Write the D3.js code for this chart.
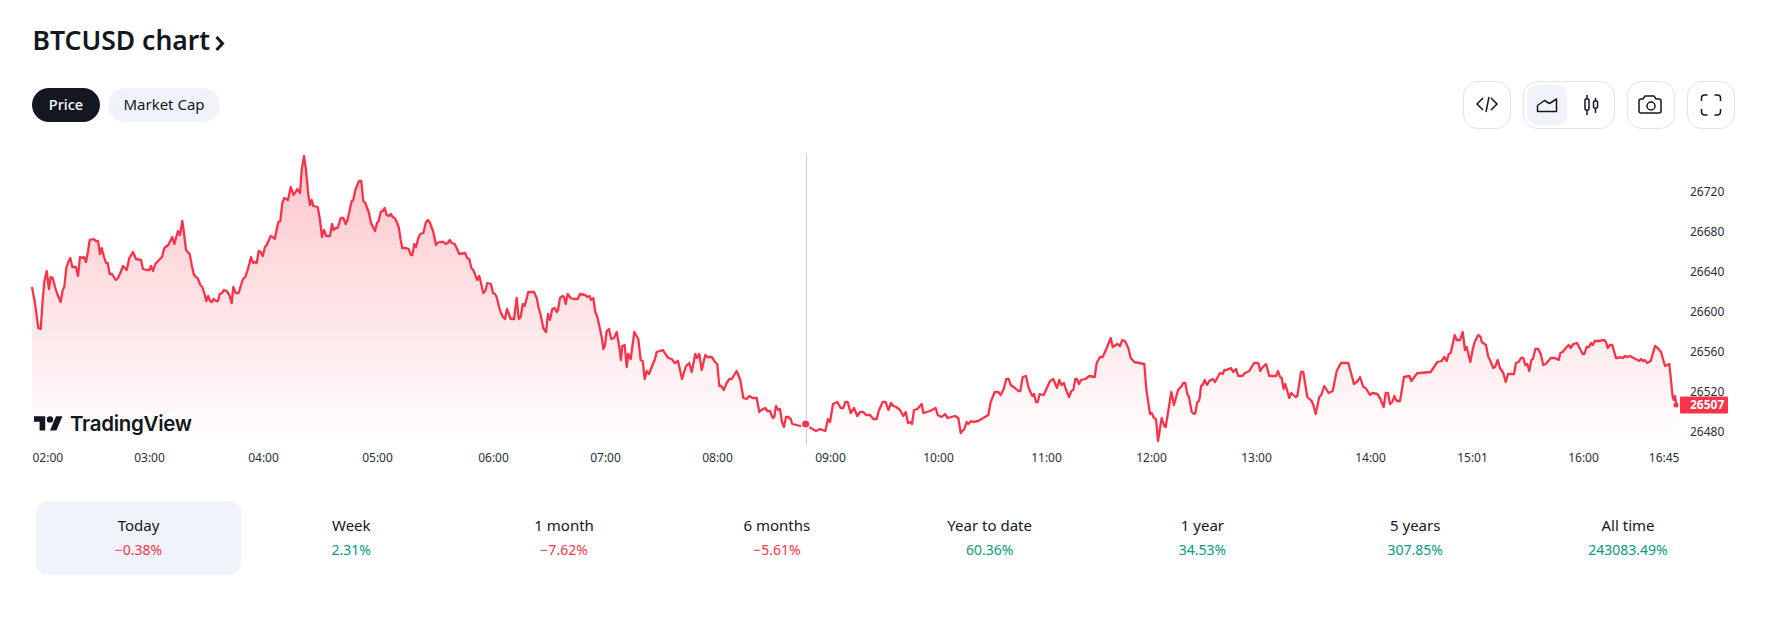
<!DOCTYPE html>
<html>
<head>
<meta charset="utf-8">
<script src="https://cdn.jsdelivr.net/npm/d3@7"></script>
<style>
  html, body { margin: 0; background: #fff; }
  svg { display: block; }
  text { font-family: "Noto Sans", sans-serif; fill: #131722; }
</style>
</head>
<body>
<div id="chart"></div>
<script>
// Price line, [bar, price]. Bars are time scale slots, not real minutes
const priceLine = [
  [0,26625],[3,26609],[6.3,26584],[8.7,26583],[10.7,26612],[12.3,26630],[14.7,26641],[17,26623],[18.7,26635],[20.7,26634],
  [23,26625],[25.3,26618],[28.7,26610],[30.7,26622],[32.3,26625],[34.3,26644],[36.3,26650],[38.3,26654],[40.3,26645],[44,26645],
  [46,26636],[48,26655],[50.3,26654],[52,26655],[54,26650],[55.7,26659],[57.7,26672],[61.3,26673],[64,26671],[66,26671],
  [68,26658],[69.7,26664],[72,26655],[74,26649],[75.7,26649],[77.7,26638],[80,26638],[83.7,26632],[86,26634],[88.7,26640],
  [91,26646],[94.7,26642],[97.3,26654],[101,26660],[104,26653],[109,26652],[111,26643],[114.7,26642],[117.3,26642],[119,26646],
  [121,26641],[123.3,26648],[126,26651],[130,26655],[132.3,26664],[136.3,26667],[140.3,26675],[142.3,26668],[146,26681],[148,26677],
  [150.3,26691],[152,26679],[154,26662],[157.7,26658],[159.7,26647],[161.7,26638],[163.7,26635],[165.7,26634],[168.3,26627],[170.3,26625],
  [172.3,26619],[174.3,26611],[176.3,26616],[178,26611],[179.7,26610],[181.7,26613],[184,26611],[186,26611],[187.7,26618],[190,26619],
  [192,26622],[194.7,26621],[197.3,26617],[199.7,26609],[201.3,26625],[203.7,26619],[206.7,26619],[208.7,26626],[211,26633],[213.3,26635],
  [215.3,26641],[217.3,26648],[219,26655],[221,26649],[223,26650],[224.7,26649],[226.7,26661],[228.7,26660],[230.7,26656],[233,26665],
  [234.7,26667],[238.7,26676],[240.7,26675],[242.7,26673],[246.3,26690],[248.3,26691],[250.3,26709],[252.3,26714],[256,26712],[258.7,26725],
  [261.7,26717],[265.3,26723],[268,26719],[269.7,26742],[272,26756],[274,26742],[276.3,26717],[278,26707],[279.7,26712],[281.3,26706],
  [285.7,26705],[288,26692],[290,26675],[292,26682],[294.3,26676],[298,26676],[300,26688],[301.7,26682],[303.7,26684],[305.7,26684],
  [308.7,26694],[311.3,26694],[313.7,26688],[315.7,26693],[319.7,26711],[321.3,26712],[323.3,26722],[327,26731],[329.3,26731],[331.3,26711],
  [333.3,26709],[337,26699],[339,26689],[343,26681],[345,26689],[346.7,26691],[348.7,26700],[350.7,26701],[352.7,26704],[354.7,26697],
  [357,26696],[358.7,26698],[360.7,26695],[362.7,26694],[364.7,26690],[366.7,26685],[368.7,26672],[370.3,26664],[374,26664],[376.7,26663],
  [378.7,26657],[380.3,26657],[382.3,26668],[384,26665],[386.3,26674],[388.3,26678],[391.3,26679],[394,26690],[396,26692],[398,26689],
  [401.3,26680],[404,26667],[405.3,26669],[408,26670],[411.7,26670],[413.7,26668],[415.7,26669],[417.7,26672],[419.7,26669],[422.7,26668],
  [427.3,26658],[433,26659],[435.3,26654],[437.3,26653],[439.3,26644],[441.3,26642],[445.3,26632],[447.3,26636],[451.3,26619],[453.3,26621],
  [455.3,26629],[459,26628],[461,26619],[463,26618],[464.7,26615],[467,26605],[469,26599],[471,26595],[473,26593],[475,26603],
  [478.7,26593],[482,26593],[484.7,26614],[486.7,26593],[488.7,26595],[490.7,26608],[492.7,26606],[496.3,26620],[502,26620],[504.7,26614],
  [506.7,26604],[508.7,26597],[511.3,26584],[514,26580],[516,26598],[518,26592],[520.3,26603],[522.7,26604],[524.7,26600],[526,26602],
  [528,26614],[530.3,26616],[532,26615],[533.7,26608],[535.7,26618],[538.7,26614],[541.3,26613],[545.7,26613],[548,26618],[553,26617],
  [555.7,26615],[557.7,26616],[559,26612],[561.3,26614],[563.3,26600],[565.3,26595],[568,26583],[569.7,26575],[571.3,26563],[573,26567],
  [574.7,26581],[577,26583],[579.3,26573],[582,26574],[584.7,26580],[587,26567],[589,26552],[590.3,26566],[592.7,26567],[594.7,26545],
  [596.3,26558],[598.7,26553],[602.3,26580],[606.3,26573],[608.7,26552],[610.7,26551],[612.7,26533],[614.7,26541],[617,26538],[621.3,26549],
  [623,26553],[624.7,26560],[630.7,26562],[636.3,26554],[639.7,26553],[642.7,26549],[646,26551],[650,26533],[654,26546],[657.3,26549],
  [659.7,26540],[663.3,26558],[665,26554],[667.3,26558],[669.7,26542],[673.3,26557],[675.3,26555],[679.7,26555],[683,26550],[685.3,26548],
  [687.3,26526],[689.3,26526],[691.7,26522],[694.7,26529],[697.3,26533],[699.7,26533],[704.7,26541],[708.3,26532],[711.3,26514],[714.7,26513],
  [717.3,26516],[720.7,26514],[724.7,26514],[727.3,26500],[729.3,26502],[733.3,26504],[735.3,26501],[738,26501],[740.7,26494],[742.3,26495],
  [744,26506],[746.3,26502],[748,26503],[750,26490],[752,26485],[754,26495],[756.3,26495],[758.7,26493],[760.3,26488],[764.7,26487],
  [768,26486],[773.7,26488],[778.7,26484],[784,26481],[788,26483],[793.3,26481],[796,26493],[798,26490],[801,26508],[805.3,26510],
  [808.7,26504],[811.3,26504],[813.3,26510],[815.7,26510],[818.7,26499],[822,26504],[825.3,26496],[828,26500],[831.3,26500],[834,26497],
  [838,26497],[841.3,26493],[844.7,26493],[846.7,26501],[850.7,26510],[853.7,26510],[856.3,26502],[859,26509],[861.3,26506],[864.3,26505],
  [868,26502],[871.3,26496],[873.7,26500],[876,26489],[878,26490],[880,26488],[882,26502],[885.3,26503],[889.7,26508],[891.3,26499],
  [894.7,26500],[898,26501],[903.7,26504],[905.7,26497],[909.7,26495],[913,26498],[915.7,26494],[923,26496],[926.3,26494],[928.7,26479],
  [932.3,26483],[934.7,26490],[936.3,26488],[939.3,26491],[941.3,26490],[946.3,26491],[951.3,26494],[956.3,26497],[958.7,26510],[962.7,26520],
  [966.3,26520],[968.7,26517],[971.7,26523],[974.3,26533],[976.7,26533],[978.7,26527],[983,26524],[986.3,26521],[988.3,26521],[990.7,26535],
  [994,26536],[996.7,26524],[1000.3,26516],[1002,26518],[1004,26510],[1005.7,26510],[1007.7,26518],[1011.7,26517],[1018,26531],[1021.3,26533],
  [1025,26524],[1027.3,26532],[1029.3,26527],[1032,26529],[1033.7,26523],[1037,26515],[1039.3,26521],[1041.3,26522],[1043.3,26533],[1045,26533],
  [1047,26528],[1049,26532],[1053.3,26533],[1057.3,26536],[1062.7,26535],[1064.7,26549],[1068,26555],[1070.7,26555],[1074.7,26564],[1078.7,26574],
  [1080.7,26565],[1085.3,26568],[1088,26566],[1090.3,26572],[1093,26571],[1096.3,26564],[1098.7,26554],[1102.3,26550],[1112.3,26548],[1114.3,26523],
  [1118,26498],[1119.7,26499],[1122,26494],[1124,26493],[1126,26471],[1129.7,26494],[1132.3,26486],[1133.7,26485],[1139.3,26520],[1142,26507],
  [1146,26522],[1149.7,26526],[1151.3,26529],[1153.3,26529],[1155.3,26518],[1157,26515],[1159.7,26500],[1162,26498],[1163.3,26499],[1165.3,26510],
  [1167,26511],[1168,26516],[1169,26526],[1170.7,26527],[1172.7,26532],[1175,26527],[1177.3,26531],[1180.7,26533],[1183,26530],[1188,26539],
  [1190.7,26538],[1192.3,26542],[1194.7,26542],[1198.7,26544],[1201.3,26540],[1204,26543],[1206.3,26536],[1210.3,26536],[1213,26539],[1217.3,26541],
  [1222,26549],[1226.3,26549],[1228.3,26541],[1230,26544],[1234,26548],[1237.3,26536],[1244,26536],[1246,26541],[1248,26535],[1249.7,26534],
  [1251.7,26523],[1253.3,26528],[1257.3,26514],[1259.3,26519],[1263.7,26515],[1265.3,26516],[1269,26540],[1271.3,26540],[1275.3,26515],[1279.7,26511],
  [1281.3,26507],[1283.7,26498],[1287.3,26515],[1289.3,26517],[1292.3,26526],[1296.7,26519],[1300.7,26521],[1304.7,26541],[1309,26549],[1316.3,26549],
  [1322,26528],[1325.7,26531],[1328,26535],[1331.3,26525],[1333.7,26524],[1338,26517],[1340.3,26519],[1345.3,26518],[1348,26514],[1351.7,26505],
  [1353.7,26519],[1356,26519],[1358,26508],[1360.3,26510],[1362.3,26516],[1364.7,26511],[1368,26511],[1372,26535],[1377.3,26536],[1379.3,26531],
  [1385.3,26539],[1388,26539],[1398.7,26540],[1405.3,26550],[1409.7,26551],[1412.3,26555],[1414.7,26551],[1416.7,26558],[1418.7,26559],[1422.7,26577],
  [1424.7,26572],[1428,26572],[1430.7,26580],[1433,26562],[1434.7,26565],[1438.3,26550],[1441,26564],[1442.7,26570],[1446.3,26577],[1448.7,26575],
  [1449.7,26570],[1454,26567],[1456.3,26555],[1458,26552],[1461.3,26544],[1463,26545],[1465.7,26552],[1468,26544],[1471.3,26539],[1473.7,26530],
  [1476,26538],[1482,26538],[1484,26549],[1486.7,26550],[1489,26554],[1491.3,26554],[1493.3,26547],[1495.3,26548],[1497.3,26541],[1499.3,26552],
  [1501,26553],[1503.3,26563],[1506.3,26563],[1508.7,26558],[1511.3,26547],[1513.7,26548],[1518.7,26554],[1523,26554],[1526.7,26552],[1528.3,26559],
  [1530.7,26560],[1533.7,26564],[1536.7,26567],[1538.7,26564],[1541.3,26568],[1545,26569],[1550.7,26558],[1552.3,26558],[1554.7,26565],[1557,26565],
  [1559,26569],[1560.7,26567],[1562.7,26571],[1566.7,26571],[1572,26572],[1574,26570],[1575.7,26564],[1578,26567],[1580.3,26567],[1584,26554],
  [1586,26554],[1587.3,26555],[1590.7,26554],[1593.3,26556],[1595.3,26555],[1598,26556],[1607.3,26551],[1609,26553],[1611,26551],[1612.7,26552],
  [1615.3,26549],[1618.7,26551],[1623,26566],[1625.7,26564],[1629,26560],[1633,26546],[1637.3,26548],[1640.7,26515],[1641.7,26512],[1643,26516],
  [1644.3,26507],[1646,26507]
];

const timeTickBars = [0, 117, 231, 345, 461, 573, 685, 798, 906, 1014, 1119, 1224, 1338, 1440, 1551, 1646];
const timeTickLabels = ["02:00", "03:00", "04:00", "05:00", "06:00", "07:00", "08:00", "09:00",
  "10:00", "11:00", "12:00", "13:00", "14:00", "15:01", "16:00", "16:45"];
const priceTicks = [26480, 26520, 26560, 26600, 26640, 26680, 26720];
const lastPrice = 26507;
const markerPoint = [773.7, 26488];

const statLabels = ["Today", "Week", "1 month", "6 months", "Year to date", "1 year", "5 years", "All time"];
const statValues = ["−0.38%", "2.31%", "−7.62%", "−5.61%", "60.36%", "34.53%", "307.85%", "243083.49%"];

const red = "#f7344a", green = "#089981", ink = "#131722", pale = "#f0f3fa", edge = "#e0e3eb";

const svg = d3.select("#chart").append("svg")
  .attr("width", 1778)
  .attr("height", 630);

const x = d3.scaleLinear().domain([0, 1646]).range([32, 1678]);
const y = d3.scaleLinear().domain([26467, 26757]).range([445, 155]);

// Gradient under the line
const grad = svg.append("defs").append("linearGradient")
  .attr("id", "areaFill")
  .attr("gradientUnits", "userSpaceOnUse")
  .attr("x1", 0).attr("x2", 0)
  .attr("y1", y.range()[1]).attr("y2", y.range()[0]);
grad.append("stop").attr("offset", 0).attr("stop-color", red).attr("stop-opacity", 0.28);
grad.append("stop").attr("offset", 1).attr("stop-color", red).attr("stop-opacity", 0);

svg.append("path")
  .datum(priceLine)
  .attr("fill", "url(#areaFill)")
  .attr("d", d3.area().x(d => x(d[0])).y0(y.range()[0]).y1(d => y(d[1])));

svg.append("path")
  .datum(priceLine)
  .attr("fill", "none")
  .attr("stroke", red)
  .attr("stroke-width", 2.3)
  .attr("stroke-linejoin", "round")
  .attr("d", d3.line().x(d => x(d[0])).y(d => y(d[1])));

// Crosshair and its dot
svg.append("line")
  .attr("x1", Math.round(x(markerPoint[0])) + 0.5)
  .attr("x2", Math.round(x(markerPoint[0])) + 0.5)
  .attr("y1", 153)
  .attr("y2", y.range()[0])
  .attr("stroke", "#c9ced8");

svg.append("circle")
  .attr("cx", x(markerPoint[0]))
  .attr("cy", y(markerPoint[1]))
  .attr("r", 4.25)
  .attr("fill", red)
  .attr("stroke", "#fff")
  .attr("stroke-width", 1.5);

svg.append("circle")
  .attr("cx", x(1644))
  .attr("cy", y(lastPrice))
  .attr("r", 2.5)
  .attr("fill", red);

// Axes
const timeAxis = svg.append("g")
  .attr("transform", "translate(0,453)")
  .call(d3.axisBottom(x).tickValues(timeTickBars).tickSize(0).tickPadding(0)
    .tickFormat((d, i) => timeTickLabels[i]));
timeAxis.select(".domain").remove();
timeAxis.selectAll("text")
  .style("font-size", "12px")
  .attr("fill", null)
  .style("fill", "#2a2e39")
  .attr("dy", "0.71em")
  .attr("dx", (d, i) => i === timeTickBars.length - 1 ? 1 : 0)
  .attr("text-anchor", (d, i) => i === 0 ? "start" : i === timeTickBars.length - 1 ? "end" : "middle");

const priceAxis = svg.append("g")
  .attr("transform", "translate(1690,0)")
  .call(d3.axisRight(y).tickValues(priceTicks).tickSize(0).tickPadding(0).tickFormat(d3.format("d")));
priceAxis.select(".domain").remove();
priceAxis.selectAll("text")
  .style("font-size", "12px")
  .style("fill", "#2a2e39");

// Last price tag
svg.append("rect")
  .attr("x", 1680).attr("y", y(lastPrice) - 8.5)
  .attr("width", 48).attr("height", 17)
  .attr("rx", 1)
  .attr("fill", red);
svg.append("text")
  .attr("x", 1690).attr("y", y(lastPrice))
  .attr("dy", "0.35em")
  .style("fill", "#fff")
  .style("font-size", "12px")
  .style("font-weight", 700)
  .text(lastPrice);

// TradingView mark
svg.append("g")
  .attr("transform", "translate(34,413) scale(0.8)")
  .attr("fill", ink)
  .call(g => {
    g.append("path").attr("d", "M14 22H7V11H0V4h14v18zM28 22h-8l7.5-18h8L28 22z");
    g.append("circle").attr("cx", 20).attr("cy", 8).attr("r", 4);
  });
svg.append("text")
  .attr("x", 70).attr("y", 431)
  .style("font-family", "Inter, sans-serif")
  .style("font-size", "20.5px")
  .style("font-weight", 600)
  .style("letter-spacing", "-0.3px")
  .text("TradingView");

// Heading
svg.append("text")
  .attr("x", 32.5).attr("y", 50)
  .style("font-size", "26.5px")
  .style("font-weight", 600)
  .text("BTCUSD chart");
svg.append("path")
  .attr("d", "M216.5 37l6 6.5-6 6.5")
  .attr("fill", "none")
  .attr("stroke", ink)
  .attr("stroke-width", 3);

// Price / Market Cap pills
svg.append("rect").attr("x", 32).attr("y", 88).attr("width", 68).attr("height", 34).attr("rx", 17).attr("fill", ink);
svg.append("rect").attr("x", 108).attr("y", 88).attr("width", 112).attr("height", 34).attr("rx", 17).attr("fill", pale);
svg.append("text").attr("x", 66).attr("y", 105).attr("dy", "0.35em").attr("text-anchor", "middle")
  .style("font-size", "14.5px").style("font-weight", 500).style("fill", "#fff").text("Price");
svg.append("text").attr("x", 164).attr("y", 105).attr("dy", "0.35em").attr("text-anchor", "middle")
  .style("font-size", "15px").text("Market Cap");

// Toolbar buttons
const buttons = svg.append("g").attr("fill", "none").attr("stroke", edge);
buttons.append("rect").attr("x", 1463.5).attr("y", 81.5).attr("width", 47).attr("height", 47).attr("rx", 14);
buttons.append("rect").attr("x", 1523.5).attr("y", 81.5).attr("width", 91).attr("height", 47).attr("rx", 14);
buttons.append("rect").attr("x", 1627.5).attr("y", 81.5).attr("width", 47).attr("height", 47).attr("rx", 14);
buttons.append("rect").attr("x", 1687.5).attr("y", 81.5).attr("width", 47).attr("height", 47).attr("rx", 14);
svg.append("rect").attr("x", 1527).attr("y", 85).attr("width", 40).attr("height", 40).attr("rx", 10).attr("fill", pale);

const icons = svg.append("g")
  .attr("fill", "none")
  .attr("stroke", ink)
  .attr("stroke-width", 1.5);
icons.append("path").attr("d", "M1483 98l-6 6 6 6M1491 98l6 6-6 6M1489 97l-3 15");
icons.append("path").attr("d", "M1537.5 111.5v-6l7-5 5 3 7-4.5v12.5z").attr("stroke-linejoin", "round");
icons.append("path").attr("d", "M1587 95v20M1595.5 98v15");
icons.append("rect").attr("x", 1585).attr("y", 99).attr("width", 4).attr("height", 11).attr("rx", 1).attr("fill", "#fff");
icons.append("rect").attr("x", 1593.5).attr("y", 101).attr("width", 4).attr("height", 7).attr("rx", 1).attr("fill", "#fff");
icons.append("path").attr("d", "M1643 99l2-3h9l2 3h3a2 2 0 0 1 2 2v10a2 2 0 0 1-2 2h-18a2 2 0 0 1-2-2v-10a2 2 0 0 1 2-2z").attr("stroke-linejoin", "round");
icons.append("circle").attr("cx", 1651).attr("cy", 106).attr("r", 4);
icons.append("path").attr("d", "M1701.5 101v-3a3 3 0 0 1 3-3h3M1714.5 95h3a3 3 0 0 1 3 3v3M1720.5 109v3a3 3 0 0 1-3 3h-3M1707.5 115h-3a3 3 0 0 1-3-3v-3");

// Performance row
const statX = d3.scalePoint().domain(statLabels).range([138.5, 1628]);

svg.append("rect")
  .attr("x", statX("Today") - 102.5).attr("y", 501)
  .attr("width", 205).attr("height", 74)
  .attr("rx", 12)
  .attr("fill", pale);

svg.selectAll(".stat-label")
  .data(statLabels)
  .join("text")
  .attr("class", "stat-label")
  .attr("x", d => statX(d))
  .attr("y", 526)
  .attr("dy", "0.35em")
  .attr("text-anchor", "middle")
  .style("font-size", "15px")
  .text(d => d);

svg.selectAll(".stat-value")
  .data(statValues)
  .join("text")
  .attr("class", "stat-value")
  .attr("x", (d, i) => statX(statLabels[i]))
  .attr("y", 550)
  .attr("dy", "0.35em")
  .attr("text-anchor", "middle")
  .style("font-size", "14px")
  .style("fill", d => d.startsWith("−") ? red : green)
  .text(d => d);
</script>
</body>
</html>
